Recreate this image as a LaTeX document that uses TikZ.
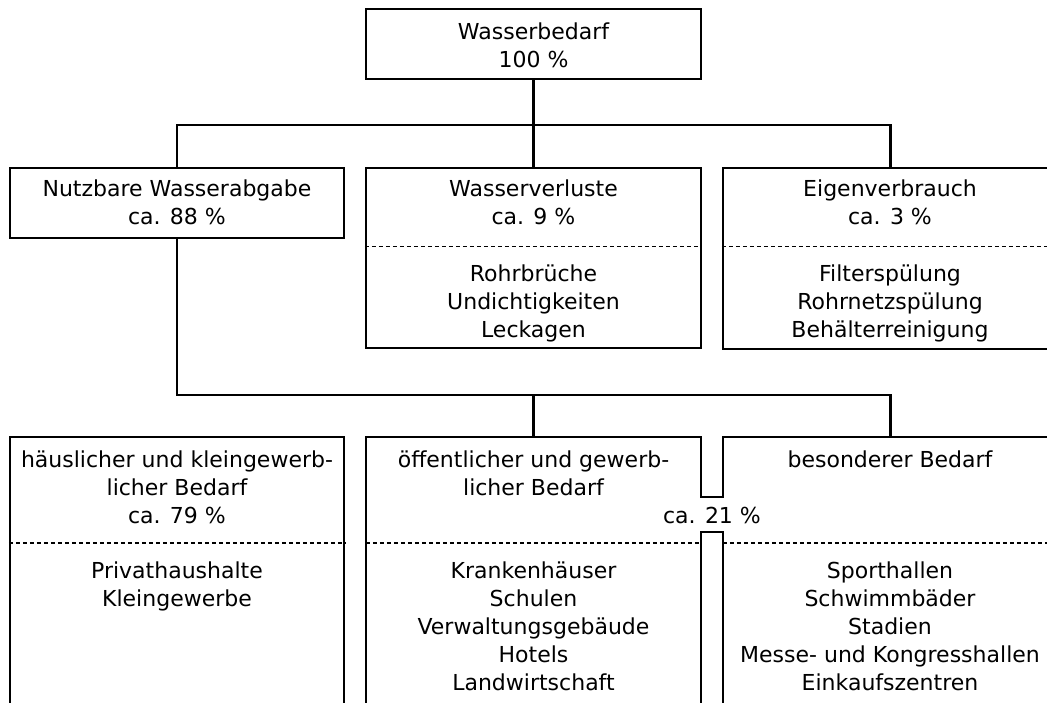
\documentclass[tikz,border=0pt]{standalone}
\usepackage{fontspec}
\setmainfont{DejaVu Sans}
\begin{document}
\begin{tikzpicture}[x=1pt,y=-1pt,
  box/.style={draw,line width=2.1pt,inner sep=0pt},
  area/.style={inner sep=0pt},
  txt/.style={align=center,inner sep=0pt,font=\fontsize{22}{28}\selectfont},
  conn/.style={line width=2.1pt},
  sep/.style={line width=1.6pt,dash pattern=on 4pt off 3pt}
]
\useasboundingbox (0,0) rectangle (1047,702);
\clip (0,0) rectangle (1047,702);

% boxes
\node[box,minimum width=335pt,minimum height=70pt] (top) at (533.5,44) {};
\node[box,minimum width=334pt,minimum height=70pt] (nutz) at (177,203) {};
\node[box,minimum width=335pt,minimum height=180pt] (verl) at (533.5,258) {};
\node[box,minimum width=335pt,minimum height=181pt] (eig) at (890.5,258.5) {};
\node[box,minimum width=334pt,minimum height=283pt] (lft) at (177,578.5) {};
\node[area,minimum width=335pt,minimum height=283pt] (mid) at (533.5,578.5) {};
\node[area,minimum width=335pt,minimum height=283pt] (rgt) at (890.5,578.5) {};

% outline of the two joined boxes
\coordinate (n1) at (0,497);
\coordinate (n2) at (0,532);
\draw[conn] (mid.south west) -- (mid.north west) -- (mid.north east) -- (mid.east |- n1)
  -- (rgt.west |- n1) -- (rgt.north west) -- (rgt.north east) -- (rgt.south east);
\draw[conn] (mid.south east) -- (mid.east |- n2) -- (rgt.west |- n2) -- (rgt.south west);

% dashed separators
\coordinate (d1) at (0,246.5);
\coordinate (d2) at (0,543);
\draw[sep] (verl.west |- d1) -- (verl.east |- d1);
\draw[sep] (eig.west |- d1) -- (eig.east |- d1);
\draw[sep] (lft.west |- d2) -- (lft.east |- d2);
\draw[sep] (mid.west |- d2) -- (mid.east |- d2);
\draw[sep] (rgt.west |- d2) -- (rgt.east |- d2);

% connectors
\coordinate (j1) at (533.5,125);
\coordinate (j2) at (533.5,395);
\draw[conn] (top.south) -- (j1);
\draw[conn] (nutz.north) -- (nutz.north |- j1) -- (eig.north |- j1) -- (eig.north);
\draw[conn] (j1) -- (verl.north);
\draw[conn] (nutz.south) -- (nutz.south |- j2) -- (rgt.north |- j2) -- (rgt.north);
\draw[conn] (j2) -- (mid.north);

% texts
\node[txt] (t1) at (533.5,47.4) {\strut Wasserbedarf\\100 \%\strut};
\node[txt] (t2) at (177,205) {\strut Nutzbare Wasserabgabe\\ca. 88 \%\strut};
\node[txt] (t3) at (533.5,205) {\strut Wasserverluste\\ca. 9 \%\strut};
\node[txt] (t4) at (533.5,303.4) {\strut Rohrbrüche\\Undichtigkeiten\\Leckagen\strut};
\node[txt] (t5) at (890,205) {\strut Eigenverbrauch\\ca. 3 \%\strut};
\node[txt] (t6) at (890,303.4) {\strut Filterspülung\\Rohrnetzspülung\\Behälterreinigung\strut};
\node[txt] (t7) at (177,489.4) {\strut häuslicher und kleingewerb-\\licher Bedarf\\ca. 79 \%\strut};
\node[txt] (t8) at (177,586.4) {\strut Privathaushalte\\Kleingewerbe\strut};
\node[txt] (t9) at (533.5,475.4) {\strut öffentlicher und gewerb-\\licher Bedarf\strut};
\node[txt] (t10) at (712,517.4) {\strut ca. 21 \%};
\node[txt] (t11) at (533.5,628.4) {\strut Krankenhäuser\\Schulen\\Verwaltungsgebäude\\Hotels\\Landwirtschaft\strut};
\node[txt] (t12) at (890,461.4) {\strut besonderer Bedarf};
\node[txt] (t13) at (890,628.4) {\strut Sporthallen\\Schwimmbäder\\Stadien\\Messe- und Kongresshallen\\Einkaufszentren\strut};
\end{tikzpicture}
\end{document}
